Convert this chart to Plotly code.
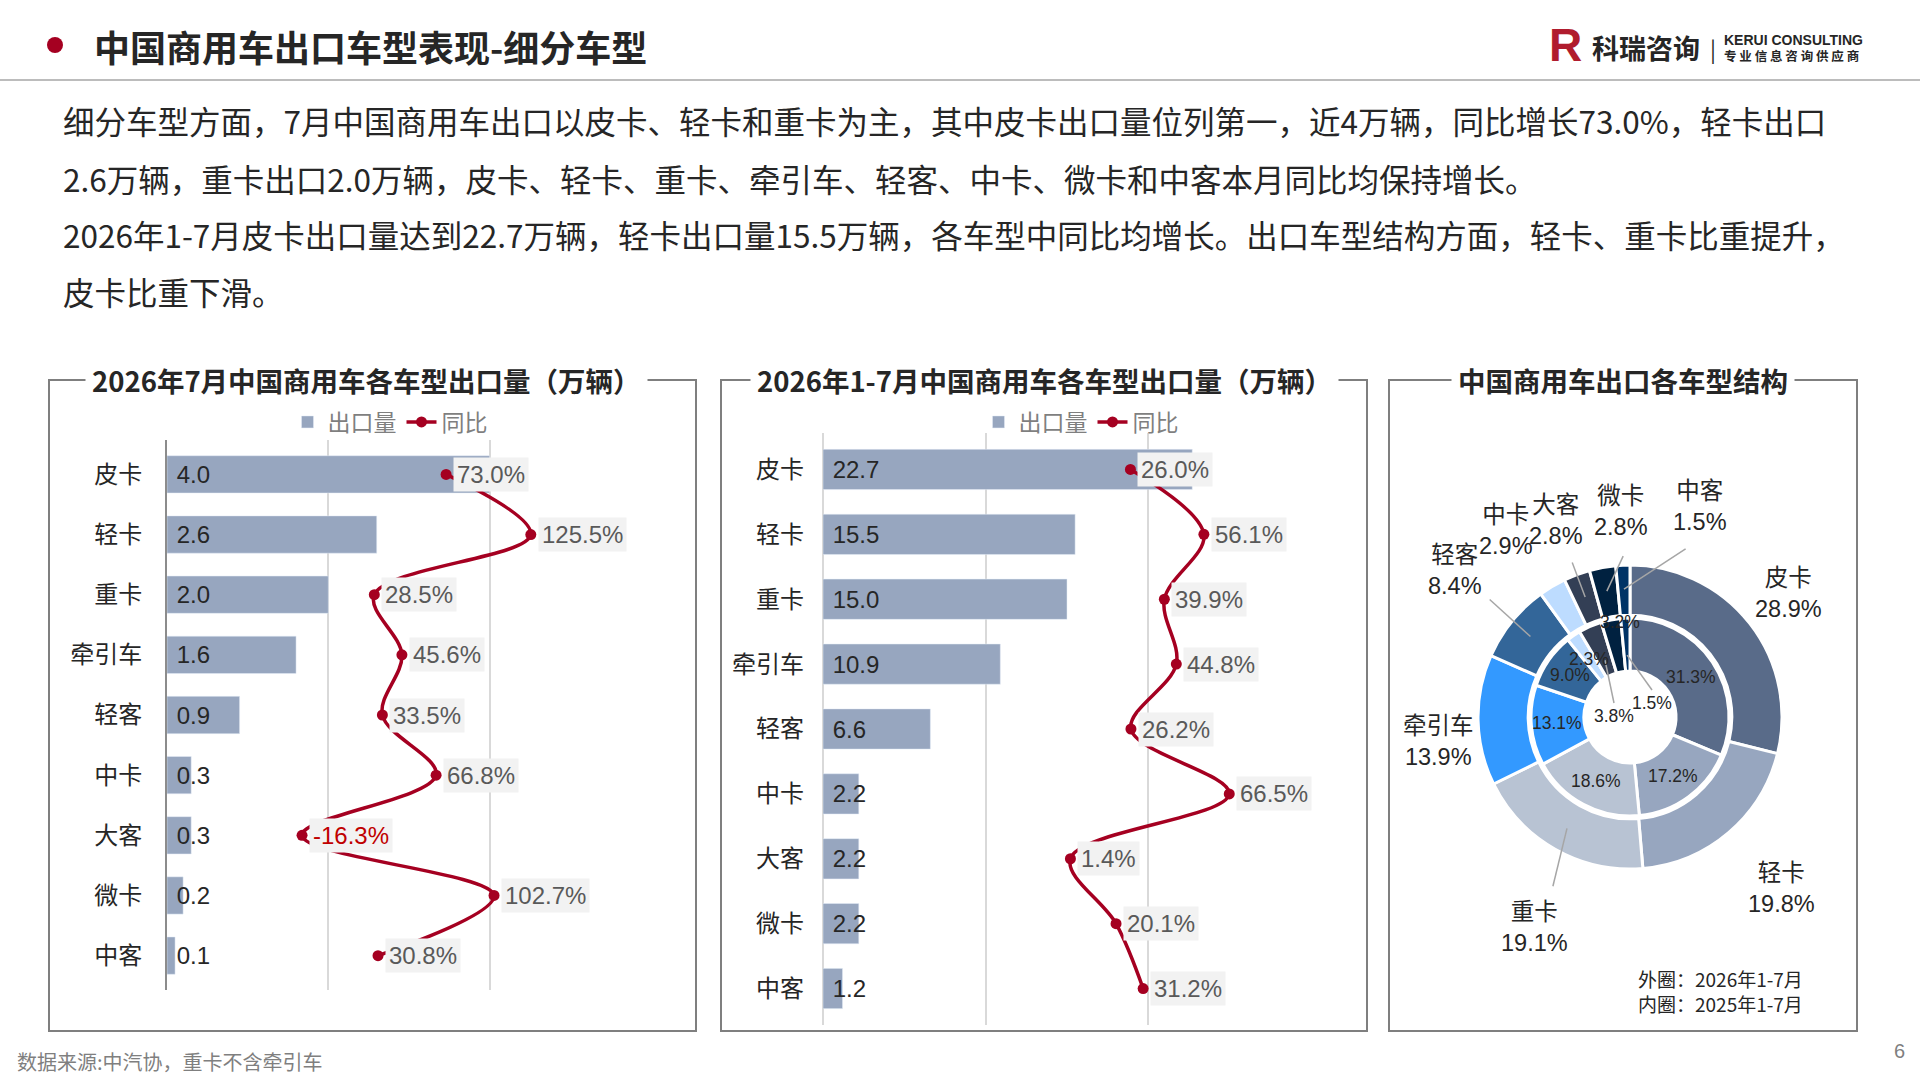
import math
import plotly.graph_objects as go

W, H = 1920, 1080

# ---- data ----
types = ["皮卡", "轻卡", "重卡", "牵引车", "轻客", "中卡", "大客", "微卡", "中客"]
jul_volume = [4.0, 2.6, 2.0, 1.6, 0.9, 0.3, 0.3, 0.2, 0.1]
jul_yoy = [73.0, 125.5, 28.5, 45.6, 33.5, 66.8, -16.3, 102.7, 30.8]
ytd_volume = [22.7, 15.5, 15.0, 10.9, 6.6, 2.2, 2.2, 2.2, 1.2]
ytd_yoy = [26.0, 56.1, 39.9, 44.8, 26.2, 66.5, 1.4, 20.1, 31.2]
share_2026 = [28.9, 19.8, 19.1, 13.9, 8.4, 2.9, 2.8, 2.8, 1.5]  # outer ring
share_2025 = [31.3, 17.2, 18.6, 13.1, 9.0, 2.3, 3.8, 3.2, 1.5]  # inner ring

page_title = "中国商用车出口车型表现-细分车型"
summary_lines = [
    "细分车型方面，7月中国商用车出口以皮卡、轻卡和重卡为主，其中皮卡出口量位列第一，近4万辆，同比增长73.0%，轻卡出口",
    "2.6万辆，重卡出口2.0万辆，皮卡、轻卡、重卡、牵引车、轻客、中卡、微卡和中客本月同比均保持增长。",
    "2026年1-7月皮卡出口量达到22.7万辆，轻卡出口量15.5万辆，各车型中同比均增长。出口车型结构方面，轻卡、重卡比重提升，",
    "皮卡比重下滑。",
]
panel_titles = [
    "2026年7月中国商用车各车型出口量（万辆）",
    "2026年1-7月中国商用车各车型出口量（万辆）",
    "中国商用车出口各车型结构",
]
source_note = "数据来源:中汽协，重卡不含牵引车"

# ---- style ----
CJK = "Noto Sans CJK SC"
NUM = "Liberation Sans, Noto Sans CJK SC"
DARK = "#262626"
GREY = "#7f7f7f"
RED = "#a50021"
BAR = "#97a6bf"
GRID = "#d9d9d9"
pie_colors = ["#596b89", "#97a6bf", "#b8c3d3", "#3399ff", "#336699",
              "#bddcff", "#333f55", "#002140", "#003366"]


def px(x):
    return x / W


def py(y):
    return 1 - y / H


fig = go.Figure()

# ---- chart 1: July ----
fig.add_trace(go.Bar(
    x=jul_volume, y=types, orientation="h", name="出口量", marker_color=BAR,
    text=[f"\u00a0{v:.1f}" for v in jul_volume], textposition="inside",
    insidetextanchor="start", constraintext="none", textangle=0,
    textfont=dict(family=NUM, size=24, color=DARK),
    xaxis="x", yaxis="y", legend="legend", hoverinfo="x+y"))
fig.add_trace(go.Scatter(
    x=jul_yoy, y=types, mode="lines+markers", name="同比",
    line=dict(color=RED, width=3.5, shape="spline"), marker=dict(size=11, color=RED),
    xaxis="x2", yaxis="y", legend="legend"))

# ---- chart 2: Jan-Jul ----
fig.add_trace(go.Bar(
    x=ytd_volume, y=types, orientation="h", name="出口量", marker_color=BAR,
    text=[f"\u00a0{v:.1f}" for v in ytd_volume], textposition="inside",
    insidetextanchor="start", constraintext="none", textangle=0,
    textfont=dict(family=NUM, size=24, color=DARK),
    xaxis="x3", yaxis="y2", legend="legend2", hoverinfo="x+y"))
fig.add_trace(go.Scatter(
    x=ytd_yoy, y=types, mode="lines+markers", name="同比",
    line=dict(color=RED, width=3.5, shape="spline"), marker=dict(size=11, color=RED),
    xaxis="x4", yaxis="y2", legend="legend2"))

# ---- chart 3: structure donut ----
CX, CY = 1630, 717
R_OUT, R_IN = 152, 99
fig.add_trace(go.Pie(
    values=share_2026, labels=types, sort=False, direction="clockwise", rotation=0,
    hole=0.67, textinfo="none", showlegend=False,
    marker=dict(colors=pie_colors, line=dict(color="white", width=3)),
    domain=dict(x=[px(CX - R_OUT), px(CX + R_OUT)], y=[py(CY + R_OUT), py(CY - R_OUT)])))
fig.add_trace(go.Pie(
    values=share_2025, labels=types, sort=False, direction="clockwise", rotation=0,
    hole=0.465, textinfo="none", showlegend=False,
    marker=dict(colors=pie_colors, line=dict(color="white", width=3)),
    domain=dict(x=[px(CX - R_IN), px(CX + R_IN)], y=[py(CY + R_IN), py(CY - R_IN)])))


def mid_angles(vals):
    tot = sum(vals)
    out, c = [], 0
    for v in vals:
        out.append((c + v / 2) / tot * 360)
        c += v
    return out


def polar(r, ang):
    a = math.radians(ang)
    return CX + r * math.sin(a), CY - r * math.cos(a)


annotations = []
shapes = []

# yoy labels
for vals, xref, yref in [(jul_yoy, "x2", "y"), (ytd_yoy, "x4", "y2")]:
    for cat, v in zip(types, vals):
        annotations.append(dict(
            x=v, y=cat, xref=xref, yref=yref, text=f"{v:.1f}%", showarrow=False,
            xanchor="left", yanchor="middle", xshift=7, bgcolor="#f2f2f2", borderpad=3,
            font=dict(family=NUM, size=24, color="#c00000" if v < 0 else "#595959")))

# outer ring labels
out_mid = mid_angles(share_2026)
label_r = [201, 229, 231, 193, 228, 224, 210, 206, 222]
label_turn = [0, -1, -5, -6, 1, -3, 0, 8, 21]
leader = [False, False, True, False, True, False, True, True, True]
for i, (cat, v) in enumerate(zip(types, share_2026)):
    ang = out_mid[i] + label_turn[i]
    lx, ly = polar(label_r[i], ang)
    annotations.append(dict(
        x=px(lx), y=py(ly), text=f"{cat}<br>{v:.1f}%", align="center",
        font=dict(family=NUM, size=23.5, color=DARK)))
    if leader[i]:
        x0, y0 = polar(128, out_mid[i])
        x1, y1 = polar(label_r[i] - 45, ang)
        shapes.append(dict(type="line", xref="paper", yref="paper",
                           x0=px(x0), y0=py(y0), x1=px(x1), y1=py(y1),
                           line=dict(color="#a6a6a6", width=1.5)))

# inner ring labels: large slices at mid-angle, small slices moved aside
in_mid = mid_angles(share_2025)
small_offsets = {5: (-41, -58), 6: (-16, -1), 7: (-10, -95), 8: (22, -14)}
for i, v in enumerate(share_2025):
    if i in small_offsets:
        dx, dy = small_offsets[i]
        lx, ly = CX + dx, CY + dy
    else:
        lx, ly = polar(73, in_mid[i])
    annotations.append(dict(
        x=px(lx), y=py(ly), text=f"{v:.1f}%", font=dict(family=NUM, size=17.5, color=DARK)))
for i in (6, 8):
    dx, dy = small_offsets[i]
    x1, y1 = polar(62, in_mid[i])
    shapes.append(dict(type="line", xref="paper", yref="paper",
                       x0=px(CX + dx), y0=py(CY + dy - 13), x1=px(x1), y1=py(y1),
                       line=dict(color="#a6a6a6", width=1.5)))

annotations.append(dict(
    x=px(1636), y=py(991), xanchor="left", align="left",
    text="外圈：2026年1-7月<br>内圈：2025年1-7月",
    font=dict(family=CJK, size=19, color=DARK)))

# ---- panels ----
boxes = [(49, 696), (721, 1367), (1389, 1857)]
title_x = [366, 1044, 1623]
for (bx0, bx1), tx, t in zip(boxes, title_x, panel_titles):
    shapes.append(dict(type="rect", xref="paper", yref="paper",
                       x0=px(bx0), x1=px(bx1), y0=py(1031), y1=py(380),
                       line=dict(color=GREY, width=2), layer="below"))
    annotations.append(dict(
        x=px(tx), y=py(380), text=f"<b>{t}</b>", bgcolor="white", borderpad=6,
        font=dict(family=CJK, size=27.5, color=DARK)))

# ---- page header / text ----
shapes.append(dict(type="line", xref="paper", yref="paper", x0=0, x1=1, y0=py(80), y1=py(80),
                   line=dict(color="#a6a6a6", width=1.5)))
shapes.append(dict(type="circle", xref="paper", yref="paper", x0=px(47), x1=px(63),
                   y0=py(53), y1=py(37), fillcolor=RED, line=dict(width=0)))
annotations.append(dict(
    x=px(92), y=py(46), xanchor="left",
    text=f"<b>{page_title}</b>", font=dict(family=CJK, size=36, color=DARK)))

# logo
annotations += [
    dict(x=px(1565), y=py(45), text="<b>R</b>", font=dict(family="Liberation Sans", size=46, color="#b01c2e")),
    dict(x=px(1590), y=py(48), xanchor="left", text="<b>科瑞咨询</b>", font=dict(family=CJK, size=27, color=DARK)),
    dict(x=px(1713), y=py(48), text="|", font=dict(family=CJK, size=22, color=DARK)),
    dict(x=px(1722), y=py(40), xanchor="left", text="<b>KERUI CONSULTING</b>",
         font=dict(family="Liberation Sans", size=14, color=DARK)),
    dict(x=px(1722), y=py(56), xanchor="left", text="<b>专 业 信 息 咨 询 供 应 商</b>",
         font=dict(family=CJK, size=12.5, color=DARK)),
]

for yy, line in zip([120, 178, 234, 291], summary_lines):
    annotations.append(dict(
        x=px(61), y=py(yy), xanchor="left",
        text=line, font=dict(family=CJK, size=31.5, color=DARK)))

annotations.append(dict(
    x=px(15), y=py(1061), xanchor="left",
    text=source_note, font=dict(family=CJK, size=20, color=GREY)))
annotations.append(dict(
    x=px(1899), y=py(1051), text="6", font=dict(family=NUM, size=20, color=GREY)))

# paper annotations: explicit anchors (plotly's "auto" shifts them near the edges)
for a in annotations:
    a.setdefault("xref", "paper")
    a.setdefault("yref", "paper")
    a.setdefault("showarrow", False)
    a.setdefault("xanchor", "center")
    a.setdefault("yanchor", "middle")

cat_axis = dict(type="category", categoryorder="array", categoryarray=types, autorange="reversed",
                ticks="", showgrid=False, tickfont=dict(family=CJK, size=24, color=DARK),
                ticklabelstandoff=18)

fig.update_layout(
    width=W, height=H, autosize=False,
    margin=dict(l=0, r=0, t=0, b=0),
    paper_bgcolor="white", plot_bgcolor="rgba(0,0,0,0)",
    bargap=0.38,
    xaxis=dict(domain=[px(167), px(651)], range=[0, 6], dtick=2, showgrid=True, gridcolor=GRID,
               gridwidth=1.5, zeroline=False, showticklabels=False, ticks="", anchor="y"),
    xaxis2=dict(overlaying="x", range=[-100, 200], visible=False, anchor="y"),
    yaxis=dict(domain=[py(990), py(440)], anchor="x", showline=True, linecolor="#8c8c8c",
               linewidth=2, **cat_axis),
    xaxis3=dict(domain=[px(823), px(1311)], range=[0, 30], dtick=10, showgrid=True, gridcolor=GRID,
                gridwidth=1.5, zeroline=True, zerolinecolor=GRID, zerolinewidth=1.5,
                showticklabels=False, ticks="", anchor="y2"),
    xaxis4=dict(overlaying="x3", range=[-100, 100], visible=False, anchor="y2"),
    yaxis2=dict(domain=[py(1025), py(433)], anchor="x3", showline=False, **cat_axis),
    legend=dict(x=px(390), y=py(422), xanchor="center", yanchor="middle", orientation="h",
                font=dict(family=CJK, size=23, color=GREY), bgcolor="rgba(0,0,0,0)"),
    legend2=dict(x=px(1081), y=py(422), xanchor="center", yanchor="middle", orientation="h",
                 font=dict(family=CJK, size=23, color=GREY), bgcolor="rgba(0,0,0,0)"),
    annotations=annotations,
    shapes=shapes,
)

fig.write_html("out.html", config={"displayModeBar": False},
               post_script="document.body.style.margin='0';document.body.style.overflow='hidden';")
